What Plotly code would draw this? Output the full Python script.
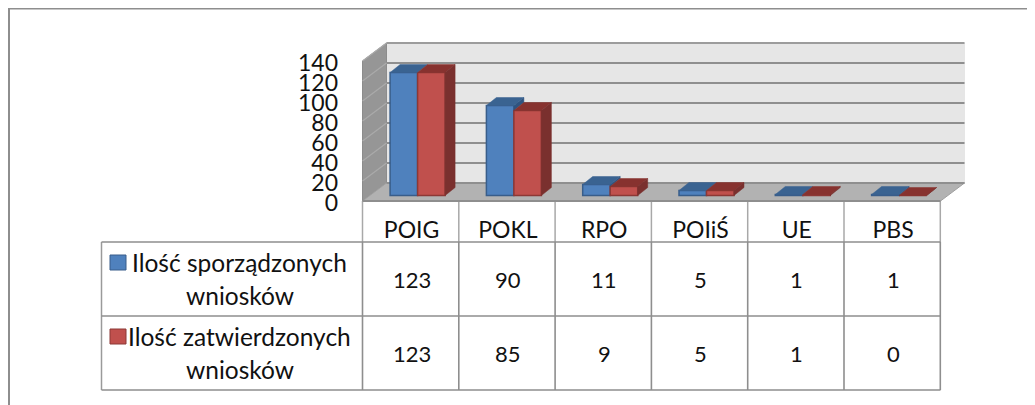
import plotly.graph_objects as go

categories = ["POIG", "POKL", "RPO", "POIiŚ", "UE", "PBS"]
series_names = ["Ilość sporządzonych wniosków", "Ilość zatwierdzonych wniosków"]
sporzadzone = [123, 90, 11, 5, 1, 1]
zatwierdzone = [123, 85, 9, 5, 1, 0]
y_ticks = [0, 20, 40, 60, 80, 100, 120, 140]

PAD = 8                # the page's own margin
W, H = 1035, 405
FW, FH = W - PAD, H - PAD
FONT = "Lato"
TXT = "#111111"
COL_PX = 96.3
X0_PX = 411.6   # pixel of first category on the front plane
Y0_PX = 201.0   # pixel of value 0 on the front plane

def xd(px):
    return (px - X0_PX) / COL_PX
def yd(px):
    return Y0_PX - px
def xoff(px):
    return px / COL_PX

DX, DY = xoff(24), 18          # wall depth
BAR_W = xoff(27.5)
BAR_SHIFT_X, BAR_SHIFT_Y = xoff(6), 5.5
BDX, BDY = xoff(10), 8         # bar depth

shapes, annotations = [], []

def poly(pts, fill, line=None, lw=1):
    p = "M " + " L ".join(f"{a},{b}" for a, b in pts) + " Z"
    shapes.append(dict(type="path", path=p, xref="x", yref="y", fillcolor=fill, layer="below",
                       line=dict(color=line or fill, width=lw)))

def seg(x1, y1, x2, y2, color, w=1.5, layer="below"):
    shapes.append(dict(type="line", x0=x1, y0=y1, x1=x2, y1=y2, xref="x", yref="y", layer=layer,
                       line=dict(color=color, width=w)))

xl, xr = xd(362.5), xd(940.5)
ymax = y_ticks[-1]
# walls and floor
poly([(xl + DX, DY), (xr + DX, DY), (xr + DX, ymax + DY), (xl + DX, ymax + DY)], "#E6E6E6")
poly([(xl, 0), (xl + DX, DY), (xl + DX, ymax + DY), (xl, ymax)], "#969696", "#8C8C8C")
poly([(xl, 0), (xr, 0), (xr + DX, DY), (xl + DX, DY)], "#B2B2B2", "#A0A0A0")
for t in y_ticks:
    seg(xl + DX, t + DY, xr + DX, t + DY, "#8F8F8F" if t < ymax else "#9C9C9C", 2)
    if 0 < t:
        seg(xl, t, xl + DX, t + DY, "#ABABAB", 1.2)

# table grid
left_px, header_bot, r1, r2 = 101.5, 242, 316, 390
col_x = [xl + i for i in range(len(categories) + 1)]
for i, cx in enumerate(col_x):
    seg(cx, yd(201), cx, yd(header_bot), "#A8A8A8", 1.5)
    seg(cx, yd(header_bot), cx, yd(r2), "#8E8E8E", 1.6)
seg(xd(left_px), yd(header_bot), xd(left_px), yd(r2), "#9A9A9A", 1.5)
for y in (header_bot, r1, r2):
    seg(xd(left_px), yd(y), xr, yd(y), "#8E8E8E", 1.6)
seg(xl, 0, xr, 0, "#8E8E8E", 2)

# outer frame: top and left edges only
seg(xd(8), yd(8.8), xd(W), yd(8.8), "#8E8E8E", 1.4)
seg(xd(9), yd(8), xd(9), yd(H), "#8E8E8E", 2)

# table text
def text(x, y, s, size=22):
    annotations.append(dict(x=x, y=y, xref="x", yref="y", text=s, showarrow=False,
                            font=dict(family=FONT, size=size, color=TXT), xanchor="center", yanchor="middle"))

for row_y, vals in ((279, sporzadzone), (353, zatwierdzone)):
    for i, v in enumerate(vals):
        text(i, yd(row_y), str(v))

def label(name, y1, y2):
    words = name.split(" ")
    text(xd(239.5), yd(y1), " ".join(words[:2]), 24.5)
    text(xd(239.5), yd(y2), words[2], 24.5)
label(series_names[0], 262, 295)
label(series_names[1], 336, 369)

fronts = ["#4F81BD", "#C0504D"]
borders = ["#385D8A", "#8C3836"]
tops = ["#3A6391", "#87322F"]
sides = ["#2F5480", "#7A302E"]

# legend keys
for ky, c, b in ((255, fronts[0], borders[0]), (329, fronts[1], borders[1])):
    shapes.append(dict(type="rect", xref="x", yref="y", x0=xd(110), x1=xd(126), y0=yd(ky), y1=yd(ky + 15),
                       fillcolor=c, line=dict(color=b, width=1)))

fig = go.Figure()
x_pos = list(range(len(categories)))
for s, vals in enumerate((sporzadzone, zatwierdzone)):
    fig.add_trace(go.Bar(x=x_pos, y=vals, base=BAR_SHIFT_Y, name=series_names[s], width=BAR_W,
                         offset=BAR_SHIFT_X + (s - 1) * BAR_W,
                         marker=dict(color=fronts[s], line=dict(color=borders[s], width=1.5)),
                         showlegend=False, hoverinfo="skip"))

def face(pts, color, name):
    xs = [p[0] for p in pts] + [pts[0][0]]
    ys = [p[1] for p in pts] + [pts[0][1]]
    fig.add_trace(go.Scatter(x=xs, y=ys, mode="lines", fill="toself", fillcolor=color,
                             line=dict(color=color, width=0.5), showlegend=False, hoverinfo="skip", name=name))

for i in x_pos:
    a, b = sporzadzone[i], zatwierdzone[i]
    bx0 = i + BAR_SHIFT_X - BAR_W
    bx1 = i + BAR_SHIFT_X
    bx2 = i + BAR_SHIFT_X + BAR_W
    ya, yb = a + BAR_SHIFT_Y, b + BAR_SHIFT_Y
    if a > b:
        face([(bx1, yb), (bx1, ya), (bx1 + BDX, ya + BDY), (bx1 + BDX, yb + BDY)], sides[0], "side")
    face([(bx0, ya), (bx1, ya), (bx1 + BDX, ya + BDY), (bx0 + BDX, ya + BDY)], tops[0], "top")
    face([(bx1, yb), (bx2, yb), (bx2 + BDX, yb + BDY), (bx1 + BDX, yb + BDY)], tops[1], "top")
    face([(bx2, BAR_SHIFT_Y), (bx2, yb), (bx2 + BDX, yb + BDY), (bx2 + BDX, BAR_SHIFT_Y + BDY)], sides[1], "side")

fig.update_layout(
    width=FW, height=FH, margin=dict(l=0, r=0, t=0, b=0), autosize=False,
    paper_bgcolor="white", plot_bgcolor="white", showlegend=False,
    barmode="overlay", shapes=shapes, annotations=annotations,
    xaxis=dict(range=[xd(PAD), xd(W)], tickvals=x_pos, ticktext=categories, showgrid=False, zeroline=False,
               showline=False, anchor="free", position=(H - 214) / FH, side="bottom", ticks="",
               tickfont=dict(family=FONT, size=23, color=TXT), fixedrange=True),
    yaxis=dict(range=[yd(H), yd(PAD)], tickvals=y_ticks, showgrid=False, zeroline=False, showline=False,
               anchor="free", position=(338 - PAD) / FW, side="left", ticks="", ticklabelshift=2,
               tickfont=dict(family=FONT, size=23, color=TXT), fixedrange=True),
)
fig.write_html("out.html")
